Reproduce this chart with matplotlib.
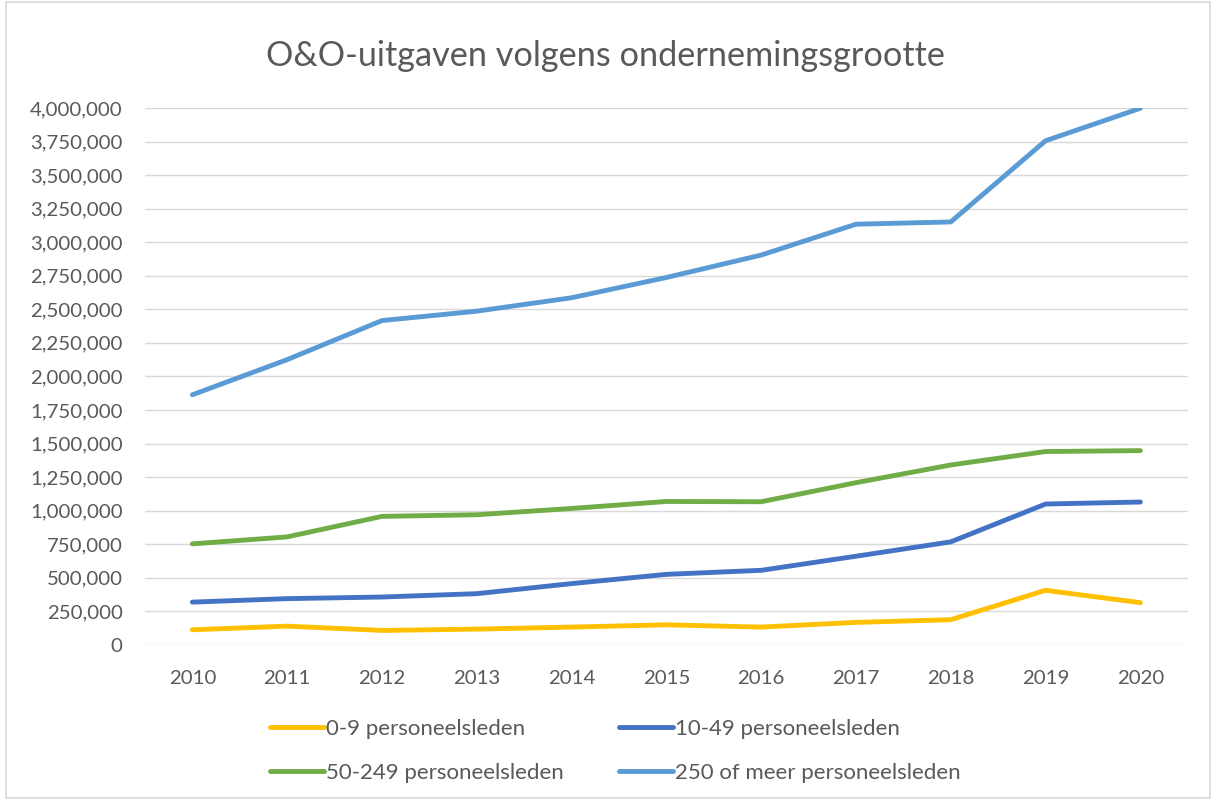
import matplotlib
matplotlib.use("Agg")
import matplotlib.pyplot as plt
from matplotlib.ticker import FuncFormatter, MultipleLocator

years = [2010, 2011, 2012, 2013, 2014, 2015, 2016, 2017, 2018, 2019, 2020]
labels = ["0-9 personeelsleden", "10-49 personeelsleden",
          "50-249 personeelsleden", "250 of meer personeelsleden"]
size_0_9 = [112000, 139000, 107000, 117000, 132000, 149000, 132000, 167000, 187000, 406000, 314000]
size_10_49 = [318000, 344000, 356000, 381000, 456000, 525000, 555000, 660000, 767000, 1049000, 1064000]
size_50_249 = [752000, 804000, 957000, 969000, 1016000, 1068000, 1066000, 1208000, 1340000, 1440000, 1447000]
size_250 = [1863000, 2125000, 2416000, 2486000, 2586000, 2737000, 2904000, 3134000, 3151000, 3756000, 3998000]
colors = ["#FFC000", "#4472C4", "#70AD47", "#5B9BD5"]

plt.rcParams['font.family'] = ['Lato', 'DejaVu Sans']
grey = "#595959"

fig = plt.figure(figsize=(12.12, 8), dpi=100)
ax = fig.add_axes([0.1196, 0.194, 0.8604, 0.671])

series = [size_0_9, size_10_49, size_50_249, size_250]
lines = []
x = list(range(len(years)))
for vals, c, lab in zip(series, colors, labels):
    ln, = ax.plot(x, vals, color=c, lw=3.5, solid_capstyle='round',
                  solid_joinstyle='round', label=lab, zorder=3)
    lines.append(ln)

ax.set_xlim(-0.5, len(years) - 0.5)
ax.set_ylim(0, 4000000)
ax.yaxis.set_major_locator(MultipleLocator(250000))
ax.yaxis.set_major_formatter(FuncFormatter(lambda v, p: f"{int(v):,}"))
ax.set_xticks(x)
ax.set_xticklabels([str(y) for y in years])
ax.grid(axis='y', color='#D9D9D9', lw=1)
ax.set_axisbelow(True)
for s in ax.spines.values():
    s.set_visible(False)
ax.tick_params(length=0, labelsize=14.7, colors=grey)
ax.tick_params(axis='y', pad=16)
ax.tick_params(axis='x', pad=18)

fig.suptitle("O&O-uitgaven volgens ondernemingsgrootte", y=0.95, fontsize=24.7, color=grey)

order = [0, 2, 1, 3]
fig.legend([lines[i] for i in order], [labels[i] for i in order], ncol=2,
           loc='center', bbox_to_anchor=(0.5074, 0.0615), frameon=False,
           fontsize=16, labelcolor=grey, handlelength=2.43, handletextpad=0.1,
           columnspacing=2.48, labelspacing=1.1)

# outer chart border
fig.patches.append(plt.Rectangle((0.005, 0.002), 0.993, 0.996, transform=fig.transFigure,
                                 fill=False, edgecolor='#D9D9D9', lw=1.2))

fig.savefig("out.png", dpi=100)
